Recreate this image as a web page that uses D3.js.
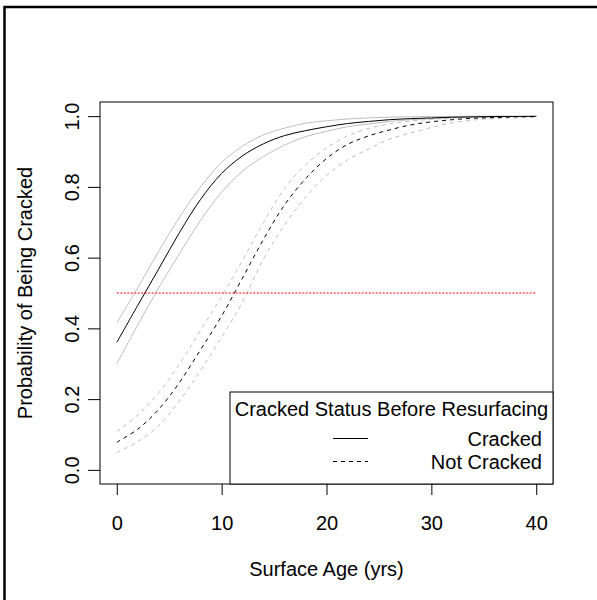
<!DOCTYPE html>
<html>
<head>
<meta charset="utf-8">
<script src="https://cdn.jsdelivr.net/npm/d3@7"></script>
<style>
  body { margin: 0; background: #fff; }
  svg text { font-family: "Liberation Sans", Arial, sans-serif; font-size: 20px; fill: #000; }
</style>
</head>
<body>
<div id="chart"></div>
<script>
// surface age (yrs)
const ages = [0, 2, 4, 6, 8, 10, 12, 14, 16, 18, 20, 22, 24, 26, 28, 30, 32, 34, 36, 38, 40];

// cracked before resurfacing: fit + band
const crackedFit   = [0.36, 0.465, 0.568, 0.672, 0.765, 0.838, 0.888, 0.922, 0.945, 0.959, 0.970, 0.979, 0.985, 0.990, 0.993, 0.995, 0.997, 0.998, 0.999, 0.999, 0.9995];
const crackedUpper = [0.415, 0.515, 0.618, 0.715, 0.80, 0.869, 0.915, 0.947, 0.966, 0.980, 0.987, 0.992, 0.995, 0.997, 0.998, 0.999, 0.999, 1.0, 1.0, 1.0, 1.0];
const crackedLower = [0.30, 0.41, 0.515, 0.612, 0.706, 0.785, 0.845, 0.886, 0.918, 0.942, 0.957, 0.970, 0.978, 0.985, 0.990, 0.993, 0.995, 0.997, 0.998, 0.999, 0.999];

// not cracked before resurfacing: fit + band
const notFit   = [0.078, 0.115, 0.171, 0.248, 0.34, 0.435, 0.543, 0.652, 0.749, 0.823, 0.88, 0.92, 0.944, 0.961, 0.975, 0.984, 0.990, 0.994, 0.996, 0.998, 0.999];
const notUpper = [0.108, 0.155, 0.218, 0.30, 0.395, 0.49, 0.593, 0.70, 0.795, 0.862, 0.91, 0.944, 0.965, 0.978, 0.986, 0.991, 0.995, 0.997, 0.998, 0.999, 0.999];
const notLower = [0.049, 0.080, 0.125, 0.196, 0.282, 0.375, 0.475, 0.597, 0.692, 0.771, 0.832, 0.876, 0.907, 0.935, 0.952, 0.968, 0.981, 0.989, 0.993, 0.995, 0.997];

const xTicks = [0, 10, 20, 30, 40];
const yTicks = [0, 0.2, 0.4, 0.6, 0.8, 1.0];
const legendLabels = ['Cracked', 'Not Cracked'];

const W = 597, H = 600;
const box = {left: 100, right: 553, top: 102, bottom: 484};

const svg = d3.select('#chart').append('svg')
    .attr('width', W).attr('height', H);

// outer device frame (only left/top visible)
svg.append('rect')
    .attr('x', 4.5).attr('y', 7).attr('width', 700).attr('height', 700)
    .attr('fill', 'none').attr('stroke', '#000').attr('stroke-width', 2.5);

const x = d3.scaleLinear().domain([-1.6, 41.6]).range([box.left, box.right]);
const y = d3.scaleLinear().domain([-0.04, 1.04]).range([box.bottom, box.top]);

// axes
const xAxis = svg.append('g')
    .attr('transform', `translate(0,${box.bottom})`)
    .call(d3.axisBottom(x).tickValues(xTicks).tickSize(11).tickFormat(d3.format('d')));
const yAxis = svg.append('g')
    .attr('transform', `translate(${box.left},0)`)
    .call(d3.axisLeft(y).tickValues(yTicks).tickSize(12).tickFormat(d3.format('.1f')));

[xAxis, yAxis].forEach(a => {
    a.select('.domain').remove();
    a.selectAll('line').attr('stroke', '#000');
    a.selectAll('text').attr('font-size', null).attr('font-family', null);
});
xAxis.selectAll('text').attr('dy', null).attr('y', 46);
yAxis.selectAll('text')
    .attr('x', null).attr('dy', null)
    .attr('text-anchor', 'middle')
    .attr('transform', 'translate(-21,0) rotate(-90)');

// plot frame
svg.append('rect')
    .attr('x', box.left).attr('y', box.top)
    .attr('width', box.right - box.left).attr('height', box.bottom - box.top)
    .attr('fill', 'none').attr('stroke', '#000').attr('stroke-width', 1);

// axis titles
svg.append('text')
    .attr('x', (box.left + box.right) / 2).attr('y', 576)
    .attr('text-anchor', 'middle')
    .text('Surface Age (yrs)');
svg.append('text')
    .attr('transform', `translate(32,${(box.top + box.bottom) / 2}) rotate(-90)`)
    .attr('text-anchor', 'middle')
    .text('Probability of Being Cracked');

// curves
const line = d3.line()
    .x((d, i) => x(ages[i]))
    .y(d => y(d))
    .curve(d3.curveCatmullRom.alpha(0.5));

const series = [
    {vals: crackedUpper, color: '#bebebe', dash: null},
    {vals: crackedLower, color: '#bebebe', dash: null},
    {vals: notUpper, color: '#bebebe', dash: '4,4'},
    {vals: notLower, color: '#bebebe', dash: '4,4'},
    {vals: crackedFit, color: '#000', dash: null},
    {vals: notFit, color: '#000', dash: '4,4'}
];
svg.append('g').selectAll('path')
    .data(series)
    .join('path')
    .attr('d', d => line(d.vals))
    .attr('fill', 'none')
    .attr('stroke', d => d.color)
    .attr('stroke-width', 1)
    .attr('stroke-dasharray', d => d.dash);

// 50% reference line
svg.append('line')
    .attr('x1', x(0)).attr('x2', x(40))
    .attr('y1', y(0.5)).attr('y2', y(0.5))
    .attr('stroke', '#ff0000').attr('stroke-width', 1.2)
    .attr('stroke-dasharray', '2,1.5');

// legend (bottom right)
const lg = {left: 230, top: 392};
svg.append('rect')
    .attr('x', lg.left).attr('y', lg.top)
    .attr('width', box.right - lg.left).attr('height', box.bottom - lg.top)
    .attr('fill', '#fff').attr('stroke', '#000').attr('stroke-width', 1);
svg.append('text')
    .attr('x', (lg.left + box.right) / 2).attr('y', 416)
    .attr('text-anchor', 'middle')
    .text('Cracked Status Before Resurfacing');
legendLabels.forEach((lab, i) => {
    const yy = 438.5 + i * 23;
    svg.append('line')
        .attr('x1', 333).attr('x2', 368)
        .attr('y1', yy).attr('y2', yy)
        .attr('stroke', '#000').attr('stroke-width', 1)
        .attr('stroke-dasharray', i === 0 ? null : '4,4');
    svg.append('text')
        .attr('x', 542).attr('y', yy + 7)
        .attr('text-anchor', 'end')
        .text(lab);
});
</script>
</body>
</html>
